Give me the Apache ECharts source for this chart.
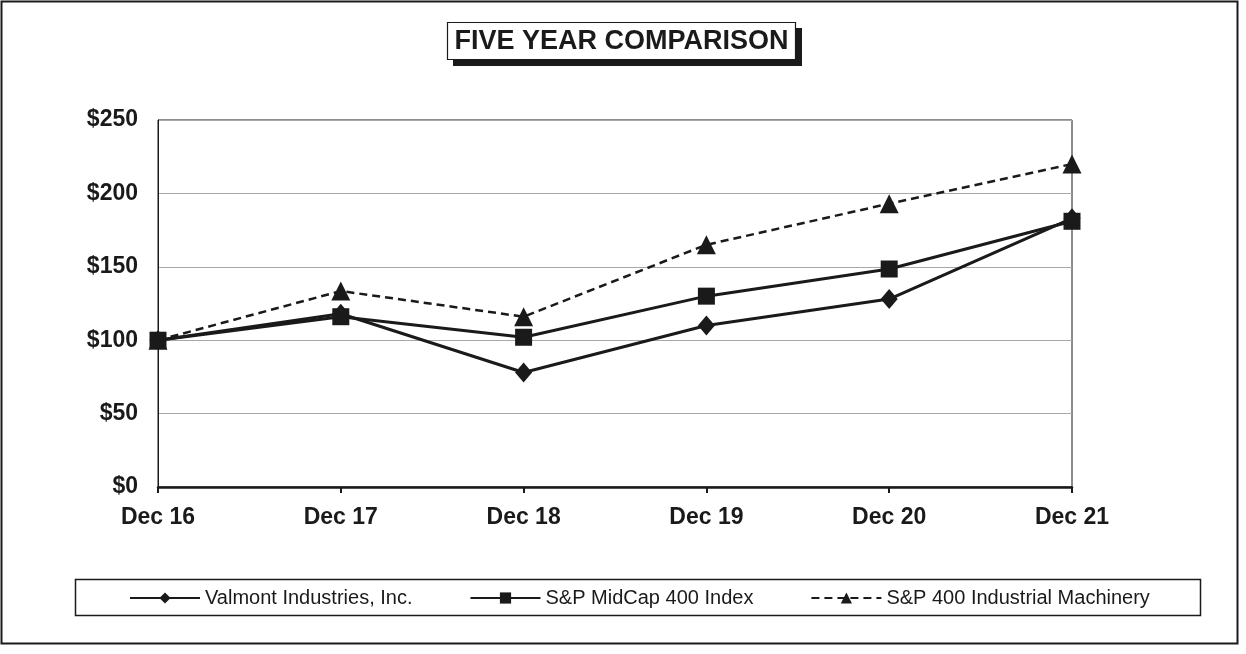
<!DOCTYPE html>
<html><head><meta charset="utf-8">
<script src="https://cdn.jsdelivr.net/npm/echarts@6/dist/echarts.min.js"></script>
<style>html,body{margin:0;padding:0;background:#fff}#c{width:1246px;height:654px}</style>
</head><body><div id="c"></div>
<script>
const categories = ['Dec 16', 'Dec 17', 'Dec 18', 'Dec 19', 'Dec 20', 'Dec 21'];
const valmont = [100, 118, 78, 110, 128, 183];
const midcap = [100, 116, 102, 130, 148.5, 181];
const machinery = [100, 133.5, 116, 165, 193, 220];
const yTicks = [0, 50, 100, 150, 200, 250];
const seriesNames = ['Valmont Industries, Inc.', 'S&P MidCap 400 Index', 'S&P 400 Industrial Machinery'];
const titleText = 'FIVE YEAR COMPARISON';

const ink = '#1a1a1a';
const font = 'Liberation Sans, Arial, sans-serif';
const chart = echarts.init(document.getElementById('c'));
chart.setOption({
  animation: false,
  backgroundColor: '#fff',
  graphic: [
    { type: 'rect', shape: { x: 1.5, y: 1.5, width: 1236, height: 642 }, style: { fill: 'none', stroke: ink, lineWidth: 2 }, silent: true },
    { type: 'rect', shape: { x: 75.5, y: 579.5, width: 1125, height: 36 }, style: { fill: 'none', stroke: ink, lineWidth: 1.5 }, silent: true },
    { type: 'rect', shape: { x: 453, y: 28, width: 349, height: 38 }, style: { fill: ink }, silent: true, z: 10 },
    { type: 'rect', shape: { x: 447.5, y: 22.5, width: 348, height: 37 }, style: { fill: '#fff', stroke: ink, lineWidth: 1.2 }, silent: true, z: 11 },
    { type: 'text', x: 621.5, y: 42, style: { text: titleText, fill: ink, font: 'bold 27px ' + font, textAlign: 'center', textVerticalAlign: 'middle' }, silent: true, z: 12 }
  ],
  legend: {
    left: 124, top: 583,
    itemWidth: 70, itemHeight: 14, itemGap: 57,
    textStyle: { fontFamily: font, fontSize: 20, color: ink },
    data: seriesNames
  },
  grid: { left: 158, top: 120, right: 174, bottom: 167, show: true, borderColor: ink, borderWidth: 1, containLabel: false },
  xAxis: {
    type: 'category', data: categories, boundaryGap: false,
    axisLine: { lineStyle: { color: ink, width: 2.5 } },
    axisTick: { show: true, length: 6, lineStyle: { color: ink, width: 2 } },
    axisLabel: { fontFamily: font, fontWeight: 'bold', fontSize: 23, color: ink, margin: 19 },
    splitLine: { show: false }
  },
  yAxis: {
    type: 'value', min: 0, max: 250, interval: 50,
    axisLine: { show: true, lineStyle: { color: ink, width: 1 } },
    axisTick: { show: false },
    axisLabel: { fontFamily: font, fontWeight: 'bold', fontSize: 23, color: ink, margin: 20,
      formatter: v => yTicks.includes(v) ? '$' + v : '' },
    splitLine: { lineStyle: { color: '#a8a8a8', width: 1 } }
  },
  series: [
    { name: seriesNames[0], type: 'line', data: valmont, symbol: 'diamond', symbolSize: [17, 20],
      lineStyle: { color: ink, width: 3 }, itemStyle: { color: ink }, z: 3 },
    { name: seriesNames[1], type: 'line', data: midcap, symbol: 'rect', symbolSize: 17,
      lineStyle: { color: ink, width: 3 }, itemStyle: { color: ink }, z: 4 },
    { name: seriesNames[2], type: 'line', data: machinery, symbol: 'triangle', symbolSize: 19,
      lineStyle: { color: ink, width: 2.5, type: [8, 5] }, itemStyle: { color: ink }, z: 2 }
  ]
});
</script></body></html>
